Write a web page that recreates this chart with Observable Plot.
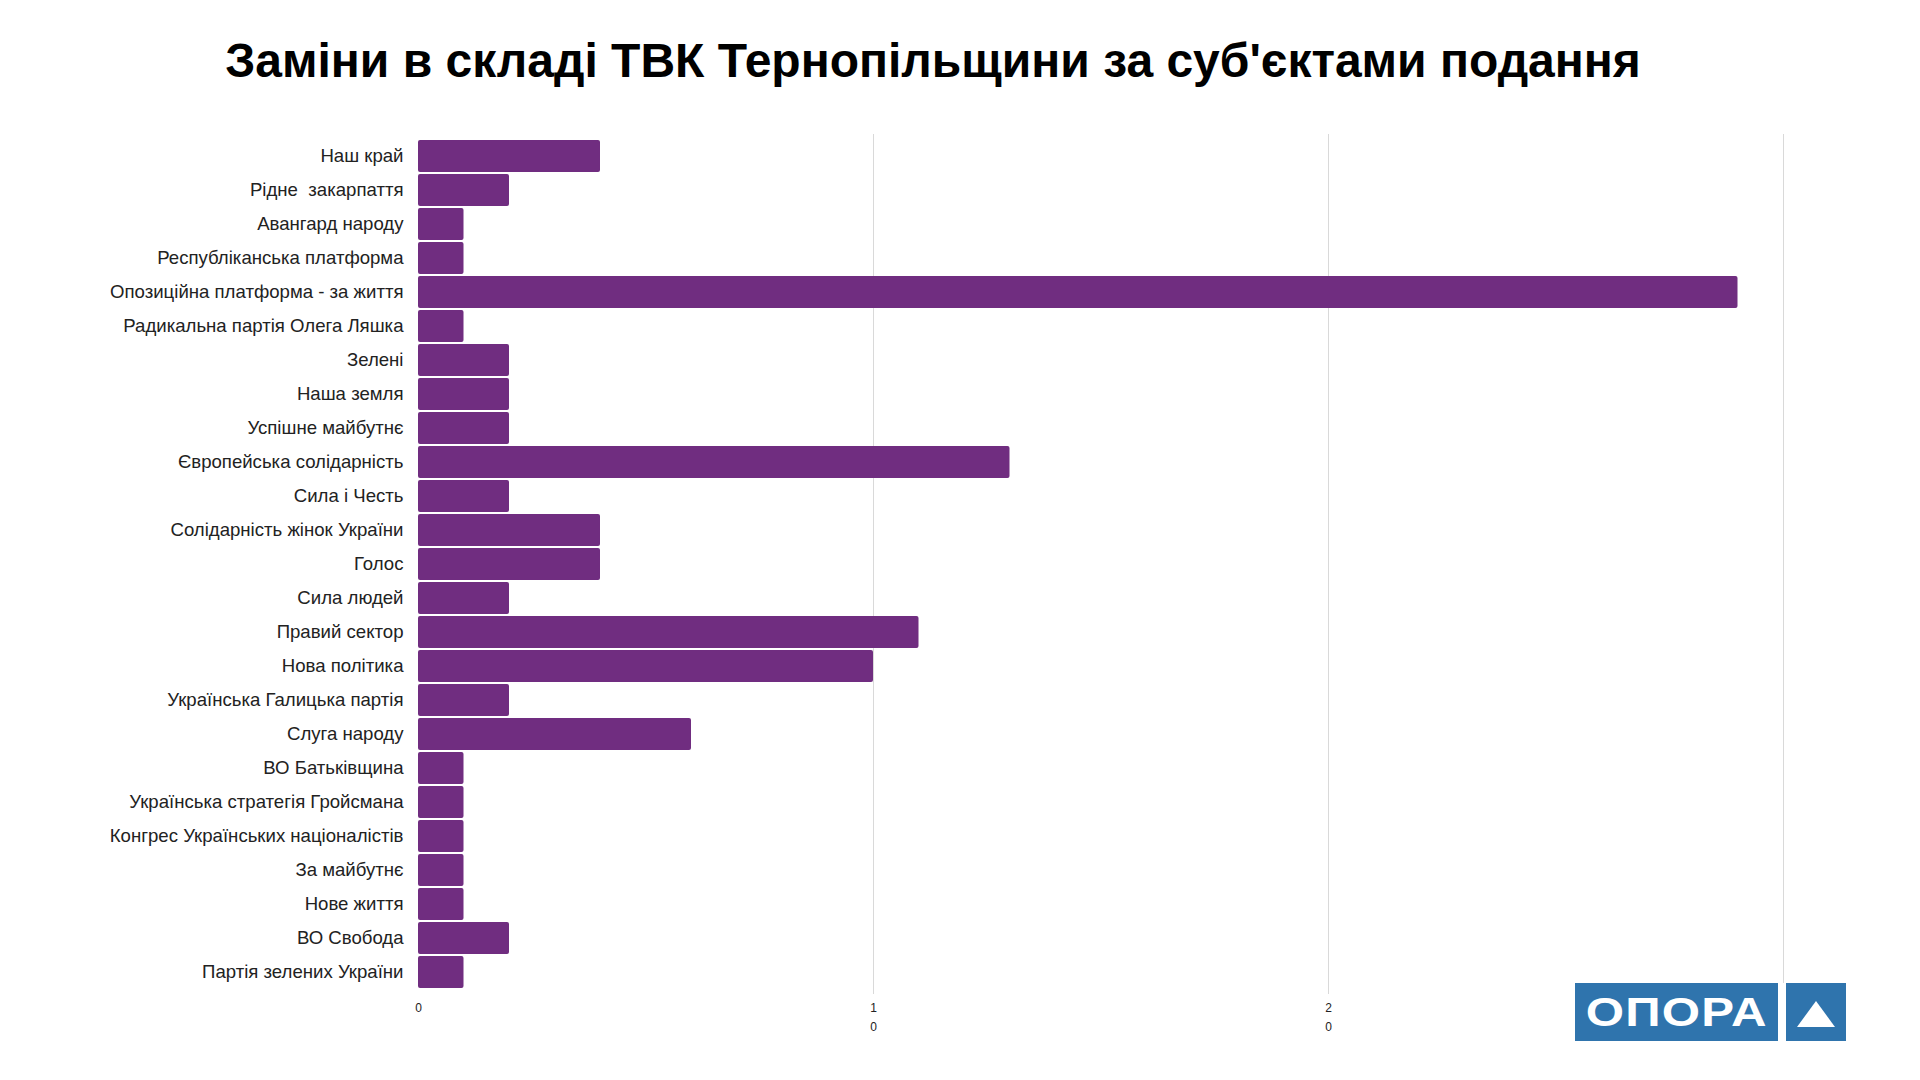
<!DOCTYPE html>
<html>
<head>
<meta charset="utf-8">
<script src="https://cdn.jsdelivr.net/npm/d3@7"></script>
<script src="https://cdn.jsdelivr.net/npm/@observablehq/plot@0.6"></script>
<style>
  html, body { margin: 0; padding: 0; background: #fff; }
  body { width: 1920px; height: 1080px; position: relative; overflow: hidden; font-family: "Liberation Sans", Arial, sans-serif; }
  #title { position: absolute; left: 0; width: 1866px; top: 33px; text-align: center; font-size: 48px; font-weight: bold; color: #000; }
  #chart { position: absolute; left: 0; top: 0; }
  #logo { position: absolute; left: 1575px; top: 983px; height: 58px; display: flex; gap: 8px; background: #fff; }
  #logo .a { width: 203px; height: 58px; background: #2F74AD; color: #fff; font-weight: bold; font-size: 41px; display: flex; align-items: center; justify-content: center; font-family: "Liberation Sans", Arial, sans-serif; }
  #logo .a span { display: inline-block; transform: scaleX(1.2); letter-spacing: 1px; }
  #logo .b { width: 60px; height: 58px; background: #2F74AD; position: relative; }
  #logo .b svg { position: absolute; left: 0; top: 0; }
</style>
</head>
<body>
<div id="title">Заміни в складі ТВК Тернопільщини за суб'єктами подання</div>
<div id="chart"></div>
<div id="logo"><div class="a"><span>ОПОРА</span></div><div class="b"><svg width="60" height="58"><polygon points="30,18 11,44 49,44" fill="#fff"/></svg></div></div>
<script>
const parties = [
  "Наш край",
  "Рідне  закарпаття",
  "Авангард народу",
  "Республіканська платформа",
  "Опозиційна платформа - за життя",
  "Радикальна партія Олега Ляшка",
  "Зелені",
  "Наша земля",
  "Успішне майбутнє",
  "Європейська солідарність",
  "Сила і Честь",
  "Солідарність жінок України",
  "Голос",
  "Сила людей",
  "Правий сектор",
  "Нова політика",
  "Українська Галицька партія",
  "Слуга народу",
  "ВО Батьківщина",
  "Українська стратегія Гройсмана",
  "Конгрес Українських націоналістів",
  "За майбутнє",
  "Нове життя",
  "ВО Свобода",
  "Партія зелених України"
];
const replacements = [4, 2, 1, 1, 29, 1, 2, 2, 2, 13, 2, 4, 4, 2, 11, 10, 2, 6, 1, 1, 1, 1, 1, 2, 1];
const xTicks = [0, 10, 20, 30];

const data = parties.map((p, i) => ({party: p, value: replacements[i]}));

const chart = Plot.plot({
  width: 1920,
  height: 1080,
  marginLeft: 418,
  marginRight: 137,
  marginTop: 134,
  marginBottom: 86,
  style: {fontFamily: "'Liberation Sans', Arial, sans-serif", background: "transparent"},
  x: {domain: [0, 30]},
  y: {domain: parties, padding: 0.07},
  marks: [
    Plot.gridX(xTicks.filter(d => d > 0), {stroke: "#d9d9d9", strokeOpacity: 1, strokeWidth: 1}),
    Plot.barX(data, {x: "value", y: "party", fill: "#702D80", rx: 2}),
    Plot.axisY({tickSize: 0, tickPadding: 15, fontSize: 18.6, color: "#222", label: null}),
    Plot.axisX({ticks: xTicks, tickSize: 0, tickPadding: 4, fontSize: 12, lineHeight: 1.6, color: "#222", label: null,
      tickFormat: d => String(d).split("").join("\n")})
  ]
});
document.getElementById("chart").appendChild(chart);
</script>
</body>
</html>
